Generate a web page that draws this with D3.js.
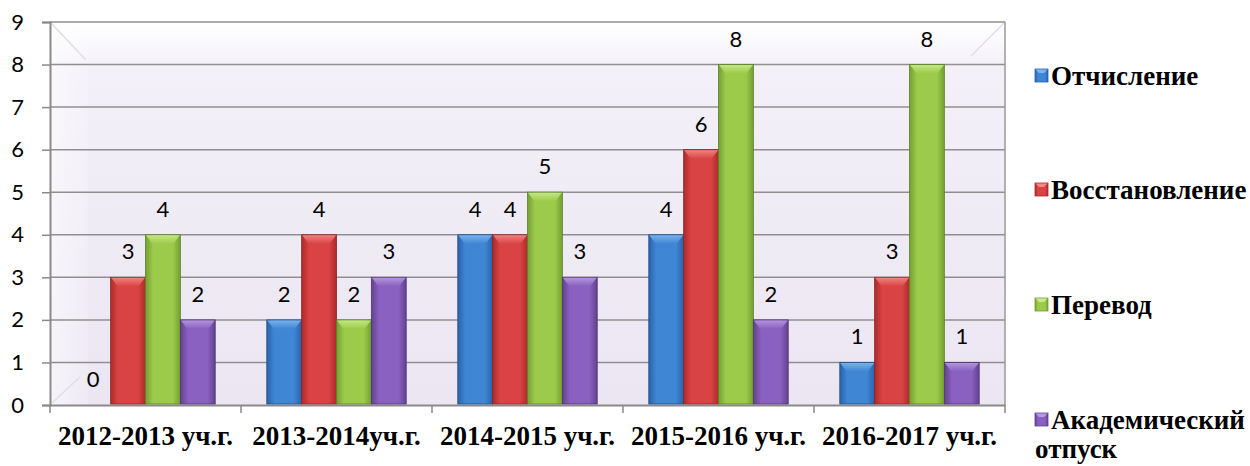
<!DOCTYPE html>
<html>
<head>
<meta charset="utf-8">
<script src="https://cdn.jsdelivr.net/npm/d3@7"></script>
<style>
  body { margin: 0; background: #fff; }
  svg { display: block; }
</style>
</head>
<body>
<div id="chart"></div>
<script>
// data
const categories = ['2012-2013 уч.г.', '2013-2014уч.г.', '2014-2015 уч.г.', '2015-2016 уч.г.', '2016-2017 уч.г.'];
const seriesNames = ['Отчисление', 'Восстановление', 'Перевод', 'Академический отпуск'];
const otchislenie = [0, 2, 4, 4, 1];
const vosstanovlenie = [3, 4, 4, 6, 3];
const perevod = [4, 2, 5, 8, 8];
const akadem = [2, 3, 3, 2, 1];
const yTicks = [0, 1, 2, 3, 4, 5, 6, 7, 8, 9];

const seriesValues = [otchislenie, vosstanovlenie, perevod, akadem];

// colours: [edge, centre, bevel]
const palette = [
  ['#2a62aa', '#3f86d4', '#7fb6ec'],
  ['#ad2b2b', '#da4343', '#f08a86'],
  ['#74a030', '#9ccb4b', '#c9e98c'],
  ['#62428f', '#8a60c0', '#b79be0']
];

const width = 1250, height = 466;
const plot = { left: 50, right: 1005, top: 22, bottom: 405 };

const svg = d3.select('#chart').append('svg')
  .attr('width', width)
  .attr('height', height);

const defs = svg.append('defs');

// back wall gradient
const wallGrad = defs.append('linearGradient')
  .attr('id', 'wall').attr('x1', 0).attr('y1', 0).attr('x2', 0).attr('y2', 1);
wallGrad.append('stop').attr('offset', '0%').attr('stop-color', '#ffffff');
wallGrad.append('stop').attr('offset', '12%').attr('stop-color', '#f3f0f8');
wallGrad.append('stop').attr('offset', '100%').attr('stop-color', '#ebe6f2');

const sideGrad = defs.append('linearGradient')
  .attr('id', 'side').attr('x1', 0).attr('y1', 0).attr('x2', 1).attr('y2', 0);
sideGrad.append('stop').attr('offset', '0%').attr('stop-color', '#ffffff').attr('stop-opacity', 0.55);
sideGrad.append('stop').attr('offset', '100%').attr('stop-color', '#ffffff').attr('stop-opacity', 0.15);

palette.forEach((c, i) => {
  const g = defs.append('linearGradient')
    .attr('id', 'bar' + i).attr('x1', 0).attr('y1', 0).attr('x2', 1).attr('y2', 0);
  g.append('stop').attr('offset', '0%').attr('stop-color', c[0]);
  g.append('stop').attr('offset', '22%').attr('stop-color', c[1]);
  g.append('stop').attr('offset', '78%').attr('stop-color', c[1]);
  g.append('stop').attr('offset', '100%').attr('stop-color', c[0]);

  const b = defs.append('linearGradient')
    .attr('id', 'bevel' + i).attr('x1', 0).attr('y1', 0).attr('x2', 0).attr('y2', 1);
  b.append('stop').attr('offset', '0%').attr('stop-color', c[2]);
  b.append('stop').attr('offset', '100%').attr('stop-color', c[1]);
});

// scales
const x0 = d3.scaleBand()
  .domain(categories)
  .range([plot.left, plot.right])
  .paddingInner(0.27)
  .paddingOuter(0.135);

const x1 = d3.scaleBand()
  .domain(seriesNames)
  .range([0, x0.bandwidth()]);

const y = d3.scaleLinear()
  .domain([0, 9])
  .range([plot.bottom, plot.top]);

// wall
svg.append('rect')
  .attr('x', plot.left).attr('y', plot.top)
  .attr('width', plot.right - plot.left)
  .attr('height', plot.bottom - plot.top)
  .attr('fill', 'url(#wall)');

svg.append('rect')
  .attr('x', plot.left).attr('y', plot.top)
  .attr('width', 38)
  .attr('height', plot.bottom - plot.top)
  .attr('fill', 'url(#side)');

// corner perspective lines, very faint
const corners = [
  [plot.left + 1, plot.top + 1, plot.left + 36, plot.top + 38],
  [plot.right - 1, plot.top + 1, plot.right - 34, plot.top + 34],
  [plot.left + 2, plot.bottom - 2, plot.left + 30, plot.bottom - 28]
];
svg.selectAll('.corner')
  .data(corners)
  .join('line')
  .attr('class', 'corner')
  .attr('x1', d => d[0]).attr('y1', d => d[1])
  .attr('x2', d => d[2]).attr('y2', d => d[3])
  .attr('stroke', '#e2dde9')
  .attr('stroke-width', 1.5);

// gridlines
svg.append('g')
  .selectAll('line')
  .data(yTicks.filter(d => d > 0))
  .join('line')
  .attr('x1', plot.left).attr('x2', plot.right)
  .attr('y1', d => y(d)).attr('y2', d => y(d))
  .attr('stroke', '#8f8f8f')
  .attr('stroke-width', 1.5);

// right edge of wall
svg.append('line')
  .attr('x1', plot.right).attr('x2', plot.right)
  .attr('y1', plot.top).attr('y2', plot.bottom)
  .attr('stroke', '#9a9a9a')
  .attr('stroke-width', 1.5);

// y axis
const yAxis = d3.axisLeft(y)
  .tickValues(yTicks)
  .tickSize(8)
  .tickPadding(18)
  .tickFormat(d3.format('d'));

const yAxisG = svg.append('g')
  .attr('transform', `translate(${plot.left},0)`)
  .call(yAxis);

yAxisG.select('.domain').attr('stroke', '#8a8a8a').attr('stroke-width', 2);
yAxisG.selectAll('.tick line').attr('stroke', '#8a8a8a').attr('stroke-width', 1.5);
yAxisG.selectAll('.tick text')
  .attr('fill', '#000')
  .style('font-family', 'Lato, "Open Sans", sans-serif')
  .style('font-size', '22px');

// x axis
const xAxis = d3.axisBottom(x0)
  .tickSize(0)
  .tickPadding(21);

const xAxisG = svg.append('g')
  .attr('transform', `translate(0,${plot.bottom})`)
  .call(xAxis);

xAxisG.select('.domain').attr('stroke', '#8a8a8a').attr('stroke-width', 2);
xAxisG.selectAll('.tick text')
  .attr('fill', '#000')
  .style('font-family', '"Liberation Serif", "Times New Roman", serif')
  .style('font-weight', 'bold')
  .style('font-size', '27px');

// category separator ticks
const boundaries = categories.map(c => x0(c) - x0.step() * x0.paddingInner() / 2)
  .concat([plot.right]);
svg.append('g')
  .selectAll('line')
  .data(boundaries)
  .join('line')
  .attr('x1', d => d).attr('x2', d => d)
  .attr('y1', plot.bottom).attr('y2', plot.bottom + 8)
  .attr('stroke', '#8a8a8a')
  .attr('stroke-width', 1.5);

// bars
const rows = [];
categories.forEach((cat, ci) => {
  seriesNames.forEach((s, si) => {
    rows.push({ cat, series: s, si, value: seriesValues[si][ci] });
  });
});

const barW = x1.bandwidth();
const barsG = svg.append('g');

const bar = barsG.selectAll('g.bar')
  .data(rows.filter(d => d.value > 0))
  .join('g')
  .attr('class', 'bar')
  .attr('transform', d => `translate(${x0(d.cat) + x1(d.series)},0)`);

bar.append('rect')
  .attr('x', 0)
  .attr('y', d => y(d.value))
  .attr('width', barW)
  .attr('height', d => y(0) - y(d.value) - 1)
  .attr('fill', d => `url(#bar${d.si})`)
  .attr('stroke', d => d3.color(palette[d.si][0]).darker(0.6))
  .attr('stroke-width', 0.8);

// top bevel
bar.append('path')
  .attr('d', d => {
    const t = y(d.value);
    const b = 7;
    return `M0.5,${t + 0.5} L${barW - 0.5},${t + 0.5} L${barW - b},${t + b + 2} L${b},${t + b + 2} Z`;
  })
  .attr('fill', d => `url(#bevel${d.si})`)
  .attr('opacity', 0.9);

// value labels
svg.append('g')
  .selectAll('text')
  .data(rows)
  .join('text')
  .attr('x', d => x0(d.cat) + x1(d.series) + barW / 2)
  .attr('y', d => y(d.value) - 18)
  .attr('text-anchor', 'middle')
  .style('font-family', 'Lato, "Open Sans", sans-serif')
  .style('font-size', '22px')
  .attr('fill', '#000')
  .text(d => d.value);

// legend
const legendY = [76, 190, 305, 420];
const legend = svg.append('g')
  .selectAll('g')
  .data(seriesNames)
  .join('g')
  .attr('transform', (d, i) => `translate(1035,${legendY[i]})`);

legend.append('rect')
  .attr('x', 0).attr('y', -7)
  .attr('width', 13).attr('height', 13)
  .attr('fill', (d, i) => `url(#bar${i})`)
  .attr('stroke', (d, i) => palette[i][0])
  .attr('stroke-width', 0.8);

legend.append('path')
  .attr('d', 'M0.5,-6.5 L12.5,-6.5 L9,-3 L4,-3 Z')
  .attr('fill', (d, i) => palette[i][2]);

const legendText = legend.append('text')
  .attr('x', 16)
  .attr('y', 9)
  .style('font-family', '"Liberation Serif", "Times New Roman", serif')
  .style('font-weight', 'bold')
  .style('font-size', '27px')
  .attr('fill', '#000');

legendText.each(function(d) {
  const words = d.split(' ');
  const t = d3.select(this);
  words.forEach((w, k) => {
    t.append('tspan')
      .attr('x', k === 0 ? 16 : 0)
      .attr('dy', k === 0 ? 0 : 29)
      .text(w);
  });
});
</script>
</body>
</html>
